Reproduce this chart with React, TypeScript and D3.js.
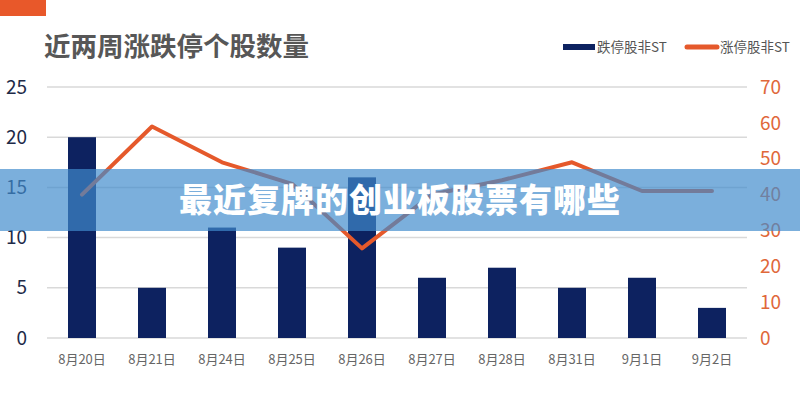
import React from 'react';
import * as d3 from 'd3';

const dates = ['8月20日', '8月21日', '8月24日', '8月25日', '8月26日', '8月27日', '8月28日', '8月31日', '9月1日', '9月2日'];
const limitDown = [20, 5, 11, 9, 16, 6, 7, 5, 6, 3];
const limitUp = [40, 59, 49, 43, 25, 40, 44, 49, 41, 41];
const leftTicks = [0, 5, 10, 15, 20, 25];
const rightTicks = [0, 10, 20, 30, 40, 50, 60, 70];

const W = 800;
const H = 400;
const margin = { top: 87, right: 53, bottom: 62, left: 47 };
const font = '"Noto Sans CJK SC", "Noto Sans", sans-serif';
const navy = '#0d2260';
const orange = '#e5592b';

export default function App() {
  const innerW = W - margin.left - margin.right;
  const innerH = H - margin.top - margin.bottom;

  const x = d3.scaleBand<string>().domain(dates).range([0, innerW]).paddingInner(0.6).paddingOuter(0.3);
  const yL = d3.scaleLinear().domain([0, 25]).range([innerH, 0]);
  const yR = d3.scaleLinear().domain([0, 70]).range([innerH, 0]);

  const line = d3.line<number>()
    .x((_, i) => (x(dates[i]) ?? 0) + x.bandwidth() / 2)
    .y(d => yR(d));

  return (
    <svg width={W} height={H} style={{ position: 'absolute', left: 0, top: 0, background: '#fff' }} fontFamily={font}>
      {/* corner accent */}
      <rect x={0} y={0} width={46} height={16} fill="#e8582a" />

      <text x={44} y={56} fontSize={26.5} fontWeight={700} fill="#575757">近两周涨跌停个股数量</text>

      {/* legend */}
      <rect x={563} y={44} width={32} height={6} fill={navy} />
      <text x={597} y={52} fontSize={13.5} fill="#555">跌停股非ST</text>
      <line x1={687} y1={47} x2={717} y2={47} stroke={orange} strokeWidth={5} strokeLinecap="round" />
      <text x={720} y={52} fontSize={13.5} fill="#555">涨停股非ST</text>

      <g transform={`translate(${margin.left},${margin.top})`}>
        {leftTicks.map(t => (
          <line key={t} x1={0} x2={innerW} y1={yL(t)} y2={yL(t)} stroke="#d9d9d9" strokeWidth={1.5} />
        ))}
        {leftTicks.map(t => (
          <text key={'l' + t} x={-20} y={yL(t)} dy="0.35em" textAnchor="end" fontSize={19} fill="#1e2a48">{t}</text>
        ))}
        {rightTicks.map(t => (
          <text key={'r' + t} x={innerW + 13} y={yR(t)} dy="0.35em" textAnchor="start" fontSize={19} fill="#e0683a">{t}</text>
        ))}

        {limitDown.map((v, i) => (
          <rect key={dates[i]} x={x(dates[i])} y={yL(v)} width={x.bandwidth()} height={innerH - yL(v)} fill={navy} />
        ))}

        <path d={line(limitUp) ?? ''} fill="none" stroke={orange} strokeWidth={4} strokeLinejoin="round" strokeLinecap="round" />

        {dates.map(d => (
          <text key={'x' + d} x={(x(d) ?? 0) + x.bandwidth() / 2} y={innerH + 26} textAnchor="middle" fontSize={13} fill="#666">{d}</text>
        ))}
      </g>

      {/* overlay banner */}
      <rect x={0} y={169} width={W} height={62} fill="rgb(64,139,204)" fillOpacity={0.69} />
      <text x={400} y={212} textAnchor="middle" fontSize={33} fontWeight={900} fill="#fff" letterSpacing={1}>最近复牌的创业板股票有哪些</text>
    </svg>
  );
}
